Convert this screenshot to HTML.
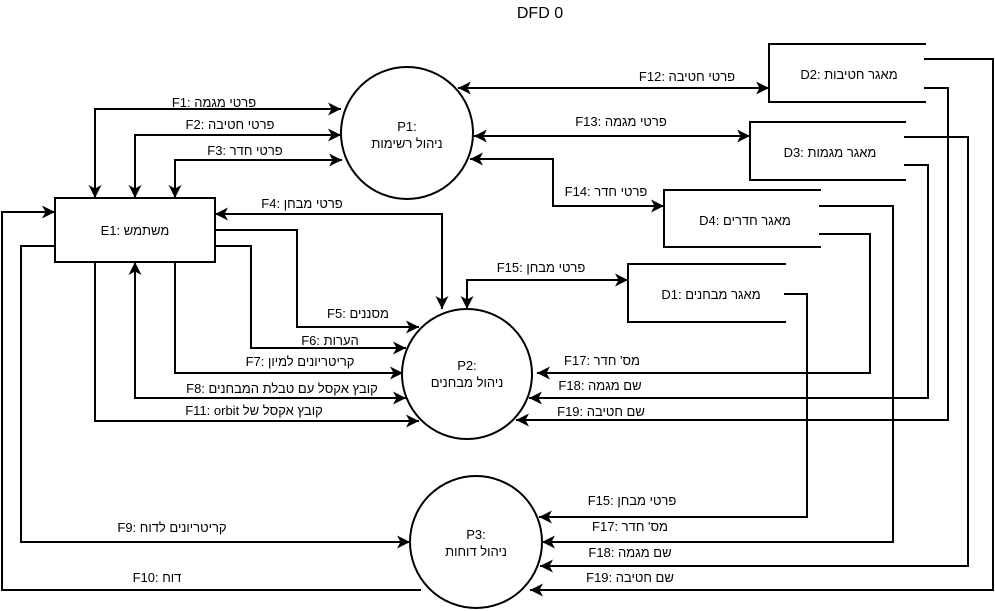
<!DOCTYPE html>
<html><head><meta charset="utf-8"><style>
html,body{margin:0;padding:0;background:#fff;}
svg{display:block;}
text{font-family:"Liberation Sans","DejaVu Sans",sans-serif;font-size:13px;fill:#000;}
</style></head><body>
<svg width="995" height="611" viewBox="0 0 995 611" xmlns="http://www.w3.org/2000/svg">
<defs>
<marker id="a" viewBox="0 0 13 13" refX="12" refY="6.5" markerWidth="13" markerHeight="13" markerUnits="userSpaceOnUse" orient="auto-start-reverse">
<path d="M0,0 L13,6.5 L0,13 L3.5,6.5 z" fill="#000"/>
</marker>
</defs>
<text x="540" y="18" text-anchor="middle" style="font-size:16px">DFD 0</text>
<g fill="none" stroke="#000" stroke-width="2" stroke-linejoin="miter" stroke-linecap="square">
<circle cx="407" cy="133" r="66" fill="#fff"/>
<circle cx="467" cy="374" r="65" fill="#fff"/>
<ellipse cx="476" cy="542" rx="66" ry="66" fill="#fff"/>
<rect x="55" y="198" width="160" height="64" fill="#fff"/>
<polyline points="925,44 769,44 769,102 925,102"/>
<polyline points="905,122 750,122 750,180 905,180"/>
<polyline points="820,190 664,190 664,247 820,247"/>
<polyline points="785,264 628,264 628,322 785,322"/>
<polyline points="340,109 95,109 95,197" marker-start="url(#a)" marker-end="url(#a)"/>
<polyline points="340,135 135,135 135,197" marker-start="url(#a)" marker-end="url(#a)"/>
<polyline points="341,160 175,160 175,197" marker-start="url(#a)" marker-end="url(#a)"/>
<polyline points="216,214 442,214 442,308" marker-start="url(#a)" marker-end="url(#a)"/>
<polyline points="215,230 297,230 297,327 418,327" marker-end="url(#a)"/>
<polyline points="215,246 251,246 251,348 405,348" marker-end="url(#a)"/>
<polyline points="175,262 175,373 402,373" marker-end="url(#a)"/>
<polyline points="405,398 135,398 135,263" marker-start="url(#a)" marker-end="url(#a)"/>
<polyline points="95,262 95,421 418,421" marker-end="url(#a)"/>
<polyline points="55,246 21,246 21,542 409,542" marker-end="url(#a)"/>
<polyline points="420,590 2,590 2,212 54,212" marker-end="url(#a)"/>
<polyline points="459,88 768,88" marker-start="url(#a)" marker-end="url(#a)"/>
<polyline points="475,136 749,136" marker-start="url(#a)" marker-end="url(#a)"/>
<polyline points="471,159 553,159 553,206 663,206" marker-start="url(#a)" marker-end="url(#a)"/>
<polyline points="627,280 467,280 467,308" marker-start="url(#a)" marker-end="url(#a)"/>
<polyline points="820,234 870,234 870,373 538,373" marker-end="url(#a)"/>
<polyline points="905,165 928,165 928,398 530,398" marker-end="url(#a)"/>
<polyline points="925,88 948,88 948,420 517,420" marker-end="url(#a)"/>
<polyline points="785,294 807,294 807,517 540,517" marker-end="url(#a)"/>
<polyline points="820,206 893,206 893,542 543,542" marker-end="url(#a)"/>
<polyline points="905,137 968,137 968,566 541,566" marker-end="url(#a)"/>
<polyline points="925,59 993,59 993,590 531,590" marker-end="url(#a)"/>
</g>
<g text-anchor="middle">
<text x="407" y="131">P1:</text><text x="407" y="148">ניהול רשימות</text>
<text x="467" y="370">P2:</text><text x="467" y="387">ניהול מבחנים</text>
<text x="476" y="539">P3:</text><text x="476" y="556">ניהול דוחות</text>
<text x="135" y="235">E1: משתמש</text>
<text x="849" y="79">D2: מאגר חטיבות</text>
<text x="830" y="157">D3: מאגר מגמות</text>
<text x="745" y="225">D4: מאגר חדרים</text>
<text x="711" y="299">D1: מאגר מבחנים</text>
<text x="214" y="107">F1: פרטי מגמה</text>
<text x="230" y="129">F2: פרטי חטיבה</text>
<text x="245" y="155">F3: פרטי חדר</text>
<text x="302" y="208">F4: פרטי מבחן</text>
<text x="358" y="318">F5: מסננים</text>
<text x="330" y="345">F6: הערות</text>
<text x="300" y="366">F7: קריטריונים למיון</text>
<text x="282" y="393">F8: קובץ אקסל עם טבלת המבחנים</text>
<text x="254" y="415">F11: orbit קובץ אקסל של</text>
<text x="687" y="81">F12: פרטי חטיבה</text>
<text x="621" y="126">F13: פרטי מגמה</text>
<text x="606" y="196">F14: פרטי חדר</text>
<text x="541" y="272">F15: פרטי מבחן</text>
<text x="602" y="365">F17: מס' חדר</text>
<text x="600" y="390">F18: שם מגמה</text>
<text x="601" y="416">F19: שם חטיבה</text>
<text x="632" y="505">F15: פרטי מבחן</text>
<text x="630" y="531">F17: מס' חדר</text>
<text x="630" y="557">F18: שם מגמה</text>
<text x="630" y="582">F19: שם חטיבה</text>
<text x="172" y="532">F9: קריטריונים לדוח</text>
<text x="157" y="582">F10: דוח</text>
</g>
</svg>
</body></html>
